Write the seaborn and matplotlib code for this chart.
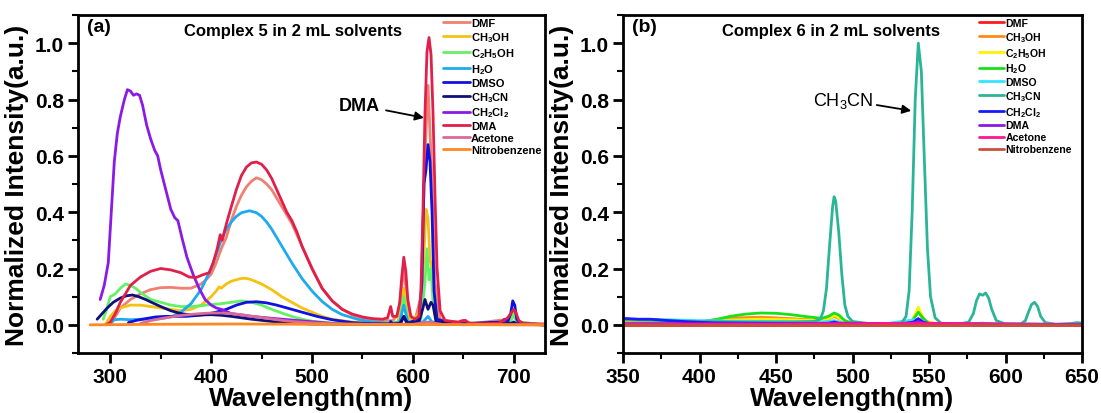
import numpy as np
import pandas as pd
import seaborn as sns
import matplotlib.pyplot as plt
from matplotlib.ticker import MultipleLocator

# ---- panel (a): complex 5 ----
a_dmf_x = [300, 305, 310, 320, 330, 340, 350, 360, 370, 380, 390, 395, 400, 405, 410, 415, 420, 425, 430, 435, 440, 445, 450, 455, 460, 465, 470, 475, 480, 485, 490, 500, 510, 520, 530, 540, 550, 560, 570, 580, 586, 591, 596, 602, 608, 612, 615, 618, 622, 627, 640, 660, 695, 700, 705, 730]
a_dmf_y = [0.0, 0.03, 0.06, 0.09, 0.11, 0.125, 0.132, 0.133, 0.13, 0.13, 0.145, 0.16, 0.18, 0.22, 0.27, 0.31, 0.37, 0.42, 0.46, 0.49, 0.51, 0.522, 0.515, 0.5, 0.48, 0.45, 0.42, 0.39, 0.36, 0.32, 0.28, 0.2, 0.13, 0.085, 0.055, 0.035, 0.025, 0.018, 0.015, 0.015, 0.04, 0.2, 0.04, 0.015, 0.1, 0.6, 0.85, 0.6, 0.15, 0.02, 0.01, 0.005, 0.02, 0.045, 0.01, 0.0]

a_ch3oh_x = [295, 300, 305, 310, 320, 330, 340, 350, 360, 370, 380, 390, 400, 405, 408, 410, 415, 420, 430, 435, 440, 450, 460, 470, 480, 490, 500, 510, 520, 540, 560, 585, 588, 591, 594, 598, 608, 611, 613, 615, 617, 619, 621, 625, 640, 695, 700, 705, 730]
a_ch3oh_y = [0.0, 0.03, 0.05, 0.06, 0.07, 0.07, 0.065, 0.06, 0.055, 0.05, 0.055, 0.07, 0.1, 0.12, 0.135, 0.13, 0.145, 0.155, 0.165, 0.165, 0.16, 0.145, 0.125, 0.1, 0.08, 0.06, 0.045, 0.03, 0.02, 0.01, 0.005, 0.01, 0.05, 0.13, 0.05, 0.01, 0.05, 0.25, 0.41, 0.38, 0.23, 0.2, 0.1, 0.01, 0.003, 0.01, 0.035, 0.005, 0.0]

a_c2h5oh_x = [293, 296, 300, 305, 310, 315, 320, 325, 330, 340, 350, 360, 370, 380, 390, 400, 410, 420, 430, 440, 450, 460, 470, 480, 490, 500, 520, 560, 587, 591, 595, 608, 612, 614, 616, 618, 620, 624, 650, 697, 700, 703, 730]
a_c2h5oh_y = [0.02, 0.05, 0.1, 0.11, 0.13, 0.145, 0.14, 0.13, 0.115, 0.09, 0.08, 0.07, 0.065, 0.065, 0.068, 0.072, 0.075, 0.08, 0.085, 0.08, 0.07, 0.055, 0.042, 0.03, 0.02, 0.013, 0.006, 0.003, 0.01, 0.1, 0.01, 0.02, 0.15, 0.27, 0.16, 0.2, 0.08, 0.01, 0.0, 0.01, 0.04, 0.01, 0.0]

a_h2o_x = [300, 304, 310, 320, 330, 340, 350, 360, 370, 380, 390, 400, 405, 410, 415, 420, 425, 430, 438, 445, 450, 455, 460, 465, 470, 480, 490, 500, 510, 520, 530, 545, 560, 580, 587, 591, 595, 610, 615, 619, 640, 700, 730]
a_h2o_y = [0.005, 0.018, 0.02, 0.018, 0.02, 0.02, 0.022, 0.028, 0.045, 0.075, 0.125, 0.2, 0.25, 0.3, 0.34, 0.365, 0.385, 0.398, 0.405, 0.398, 0.385, 0.365, 0.34, 0.31, 0.28, 0.22, 0.165, 0.12, 0.083, 0.055, 0.036, 0.02, 0.01, 0.005, 0.01, 0.07, 0.01, 0.01, 0.03, 0.01, 0.002, 0.008, 0.0]

a_dmso_x = [318, 325, 335, 345, 355, 365, 375, 385, 395, 405, 415, 425, 435, 445, 455, 465, 475, 485, 495, 505, 520, 540, 560, 577, 578, 580, 588, 591, 594, 606, 609, 611, 613, 615, 617, 619, 621, 624, 640, 688, 691, 694, 697, 699, 701, 703, 706, 730]
a_dmso_y = [0.008, 0.015, 0.022, 0.028, 0.03, 0.03, 0.03, 0.033, 0.037, 0.045, 0.055, 0.07, 0.08, 0.082, 0.078, 0.07, 0.06, 0.05, 0.04, 0.03, 0.018, 0.008, 0.004, 0.003, 0.012, 0.003, 0.005, 0.03, 0.005, 0.02, 0.15, 0.5, 0.55, 0.64, 0.58, 0.4, 0.12, 0.02, 0.003, 0.01, 0.02, 0.01, 0.04, 0.085, 0.07, 0.02, 0.004, 0.0]

a_ch3cn_x = [287, 292, 297, 303, 310, 316, 322, 328, 335, 342, 350, 360, 370, 380, 390, 400, 410, 420, 430, 440, 460, 480, 500, 580, 587, 591, 595, 606, 610, 612, 615, 618, 620, 623, 640, 698, 700, 703, 730]
a_ch3cn_y = [0.02, 0.04, 0.06, 0.08, 0.095, 0.103, 0.106, 0.1, 0.09, 0.078, 0.065, 0.05, 0.04, 0.035, 0.035, 0.036, 0.034, 0.03, 0.025, 0.02, 0.012, 0.006, 0.003, 0.002, 0.005, 0.03, 0.005, 0.01, 0.06, 0.09, 0.055, 0.08, 0.07, 0.01, 0.002, 0.005, 0.01, 0.002, 0.0]

a_ch2cl2_x = [290, 294, 298, 301, 304, 307, 310, 314, 317, 320, 323, 326, 329, 332, 336, 340, 344, 347, 350, 355, 360, 364, 367, 371, 376, 382, 388, 394, 400, 405, 410, 420, 440, 470, 520]
a_ch2cl2_y = [0.09, 0.14, 0.22, 0.4, 0.58, 0.68, 0.74, 0.8, 0.835, 0.83, 0.815, 0.82, 0.815, 0.78, 0.71, 0.66, 0.62, 0.6, 0.55, 0.48, 0.41, 0.38, 0.37, 0.31, 0.24, 0.18, 0.13, 0.09, 0.07, 0.06, 0.055, 0.04, 0.03, 0.02, 0.005]

a_dma_x = [296, 300, 305, 310, 315, 320, 330, 340, 350, 360, 370, 378, 385, 392, 398, 402, 406, 409, 411, 413, 416, 420, 425, 430, 435, 440, 445, 450, 455, 460, 465, 470, 475, 480, 485, 490, 500, 510, 520, 530, 540, 550, 560, 570, 575, 578, 580, 584, 587, 589, 591, 593, 595, 598, 602, 606, 608, 610, 612, 614, 616, 618, 620, 622, 624, 627, 632, 645, 649, 652, 656, 670, 685, 690, 694, 697, 700, 702, 705, 710, 730]
a_dma_y = [0.0, 0.01, 0.04, 0.08, 0.11, 0.14, 0.17, 0.19, 0.2, 0.195, 0.185, 0.17, 0.168, 0.178, 0.185, 0.22, 0.27, 0.32, 0.3, 0.33, 0.37, 0.42, 0.48, 0.53, 0.56, 0.575, 0.578, 0.57, 0.55, 0.52, 0.48, 0.44, 0.4, 0.37, 0.33, 0.28, 0.2, 0.13, 0.085, 0.055, 0.038, 0.028, 0.022, 0.02, 0.025, 0.065, 0.03, 0.03, 0.08, 0.17, 0.24, 0.19, 0.09, 0.03, 0.02, 0.03, 0.12, 0.4, 0.75, 0.97, 1.02, 0.96, 0.75, 0.45, 0.2, 0.05, 0.015, 0.01, 0.015, 0.016, 0.006, 0.004, 0.006, 0.015, 0.025, 0.04, 0.055, 0.045, 0.015, 0.004, 0.003]

a_acetone_x = [330, 340, 350, 360, 370, 380, 390, 400, 410, 420, 430, 440, 450, 460, 470, 480, 500, 520, 560, 600, 615, 630, 730]
a_acetone_y = [0.005, 0.015, 0.022, 0.028, 0.033, 0.037, 0.04, 0.042, 0.042, 0.04, 0.036, 0.031, 0.026, 0.021, 0.016, 0.012, 0.007, 0.004, 0.002, 0.002, 0.01, 0.001, 0.0]

a_nitro_x = [280, 350, 420, 500, 600, 730]
a_nitro_y = [0.0, 0.002, 0.003, 0.002, 0.001, 0.0]

# ---- panel (b): complex 6 ----
b_ch3cn_x = [350, 370, 400, 430, 460, 475, 479, 481, 483, 485, 487, 488, 489, 491, 493, 495, 497, 500, 510, 525, 532, 535, 537, 539, 541, 543, 545, 547, 549, 551, 554, 558, 570, 576, 579, 581, 583, 585, 587, 589, 591, 594, 600, 610, 613, 615, 617, 619, 621, 623, 626, 633, 643, 647, 650]
b_ch3cn_y = [0.018, 0.016, 0.012, 0.01, 0.01, 0.012, 0.02, 0.05, 0.13, 0.28, 0.42, 0.455, 0.44, 0.33, 0.18, 0.07, 0.03, 0.012, 0.005, 0.003, 0.006, 0.03, 0.12, 0.4, 0.8, 1.0, 0.9, 0.58, 0.27, 0.1, 0.025, 0.005, 0.003, 0.01, 0.04, 0.085, 0.11, 0.105, 0.113, 0.095, 0.055, 0.015, 0.003, 0.003, 0.015, 0.045, 0.072, 0.08, 0.065, 0.03, 0.008, 0.002, 0.005, 0.008, 0.006]

b_h2o_x = [350, 380, 400, 410, 420, 430, 440, 450, 460, 470, 480, 485, 488, 491, 495, 500, 520, 538, 541, 543, 546, 550, 570, 585, 595, 620, 650]
b_h2o_y = [0.004, 0.006, 0.01, 0.018, 0.03, 0.038, 0.042, 0.041, 0.036, 0.029, 0.023, 0.032, 0.042, 0.035, 0.015, 0.006, 0.002, 0.006, 0.03, 0.045, 0.025, 0.004, 0.002, 0.006, 0.002, 0.003, 0.0]

b_ch3oh_x = [350, 380, 400, 420, 440, 460, 480, 485, 488, 492, 497, 520, 539, 543, 547, 555, 650]
b_ch3oh_y = [0.01, 0.01, 0.012, 0.024, 0.027, 0.022, 0.015, 0.022, 0.03, 0.02, 0.005, 0.002, 0.01, 0.05, 0.01, 0.002, 0.0]

b_c2h5oh_x = [350, 400, 420, 440, 460, 480, 485, 488, 491, 497, 520, 539, 543, 547, 555, 650]
b_c2h5oh_y = [0.007, 0.009, 0.017, 0.02, 0.018, 0.014, 0.02, 0.035, 0.025, 0.004, 0.002, 0.015, 0.062, 0.015, 0.002, 0.0]

b_dmso_x = [350, 380, 400, 420, 450, 480, 488, 495, 520, 543, 550, 650]
b_dmso_y = [0.02, 0.018, 0.015, 0.013, 0.012, 0.01, 0.015, 0.005, 0.003, 0.02, 0.003, 0.002]

b_ch2cl2_x = [350, 360, 368, 380, 395, 410, 450, 480, 485, 488, 492, 530, 540, 543, 546, 552, 650]
b_ch2cl2_y = [0.023, 0.02, 0.02, 0.015, 0.01, 0.007, 0.005, 0.004, 0.006, 0.01, 0.004, 0.002, 0.01, 0.022, 0.01, 0.002, 0.0]

b_dma_x = [350, 450, 488, 540, 543, 546, 650]
b_dma_y = [0.004, 0.003, 0.006, 0.004, 0.012, 0.004, 0.001]

b_acetone_x = [350, 488, 543, 650]
b_acetone_y = [0.002, 0.003, 0.006, 0.0]

b_flat_x = [350, 650]
b_dmf_y = [0.0, 0.0]
b_nitro_y = [0.0, 0.0]

solvents = ['DMF', 'CH$_3$OH', 'C$_2$H$_5$OH', 'H$_2$O', 'DMSO', 'CH$_3$CN',
            'CH$_2$Cl$_2$', 'DMA', 'Acetone', 'Nitrobenzene']

colors_a = ['#F08070', '#F5C211', '#66F066', '#1EAAF0', '#1010E0', '#10107A',
            '#8A1AE8', '#E0204A', '#DB6A96', '#FF8820']
colors_b = ['#FF1A1A', '#FF8C1A', '#FFF200', '#1AE01A', '#33E6FF', '#2BB597',
            '#1A1AFF', '#8A1AE6', '#FF1493', '#C8503C']

series_a = [(a_dmf_x, a_dmf_y), (a_ch3oh_x, a_ch3oh_y), (a_c2h5oh_x, a_c2h5oh_y),
            (a_h2o_x, a_h2o_y), (a_dmso_x, a_dmso_y), (a_ch3cn_x, a_ch3cn_y),
            (a_ch2cl2_x, a_ch2cl2_y), (a_dma_x, a_dma_y), (a_acetone_x, a_acetone_y),
            (a_nitro_x, a_nitro_y)]
series_b = [(b_flat_x, b_dmf_y), (b_ch3oh_x, b_ch3oh_y), (b_c2h5oh_x, b_c2h5oh_y),
            (b_h2o_x, b_h2o_y), (b_dmso_x, b_dmso_y), (b_ch3cn_x, b_ch3cn_y),
            (b_ch2cl2_x, b_ch2cl2_y), (b_dma_x, b_dma_y), (b_acetone_x, b_acetone_y),
            (b_flat_x, b_nitro_y)]


def to_frame(series):
    parts = []
    for name, (x, y) in zip(solvents, series):
        parts.append(pd.DataFrame({'Wavelength': x, 'Intensity': y, 'Solvent': name}))
    return pd.concat(parts, ignore_index=True)


sns.set_theme(style='ticks')
plt.rcParams['font.family'] = ['Liberation Sans', 'DejaVu Sans']
plt.rcParams['font.weight'] = 'bold'
plt.rcParams['axes.labelweight'] = 'bold'
plt.rcParams['mathtext.default'] = 'regular'
plt.rcParams['text.color'] = 'black'
plt.rcParams['axes.labelcolor'] = 'black'
plt.rcParams['xtick.color'] = 'black'
plt.rcParams['ytick.color'] = 'black'

fig = plt.figure(figsize=(11.01, 4.14), dpi=100)
ax1 = fig.add_axes([78 / 1101, 1 - 354 / 414, (545 - 78) / 1101, (354 - 16) / 414])
ax2 = fig.add_axes([623 / 1101, 1 - 354 / 414, (1082 - 623) / 1101, (354 - 16) / 414])

panels = [(ax1, series_a, colors_a, (268, 731), 100, 50, '(a)', 'Complex 5 in 2 mL solvents', 0.46, 8, 1.0),
          (ax2, series_b, colors_b, (350, 650), 50, 25, '(b)', 'Complex 6 in 2 mL solvents', 0.453, 7.6, 0.985)]

for ax, series, cols, xlim, xmaj, xmin, tag, title, tx, lfs, lx in panels:
    df = to_frame(series)
    sns.lineplot(data=df, x='Wavelength', y='Intensity', hue='Solvent', hue_order=solvents,
                 palette=cols, estimator=None, lw=2, ax=ax)
    ax.set_xlim(*xlim)
    ax.set_ylim(-0.1, 1.1)
    ax.xaxis.set_major_locator(MultipleLocator(xmaj))
    ax.xaxis.set_minor_locator(MultipleLocator(xmin))
    ax.yaxis.set_major_locator(MultipleLocator(0.2))
    ax.yaxis.set_minor_locator(MultipleLocator(0.1))
    ax.yaxis.set_major_formatter(plt.FormatStrFormatter('%.1f'))
    ax.tick_params(which='major', direction='out', length=7, width=2, labelsize=15, pad=3)
    ax.tick_params(which='minor', direction='out', length=4, width=1.5)
    for s in ax.spines.values():
        s.set_linewidth(2)
        s.set_color('black')
    ax.set_xlabel('Wavelength(nm)', fontsize=19, labelpad=0)
    ax.set_ylabel('Normalized Intensity(a.u.)', fontsize=19)
    h, l = ax.get_legend_handles_labels()
    ax.legend(h, l, loc='upper right', bbox_to_anchor=(lx, 1.0), frameon=False,
              prop={'size': lfs, 'weight': 'bold'},
              handlelength=2.4, handletextpad=0.15, labelspacing=0.18,
              borderaxespad=0.2, borderpad=0.1)
    ax.text(0.02, 0.965, tag, transform=ax.transAxes, fontsize=14, fontweight='bold',
            ha='left', va='center')
    ax.text(tx, 0.955, title, transform=ax.transAxes, fontsize=12, fontweight='bold',
            ha='center', va='center')

ax1.annotate('DMA', xy=(611, 0.735), xytext=(547, 0.78), fontsize=13, fontweight='bold',
             ha='center', va='center',
             arrowprops=dict(arrowstyle='-|>', color='black', lw=1.3, shrinkA=2, shrinkB=0))
ax2.annotate('CH$_3$CN', xy=(538.4, 0.76), xytext=(494, 0.80), fontsize=13, fontweight='normal',
             ha='center', va='center',
             arrowprops=dict(arrowstyle='-|>', color='black', lw=1.3, shrinkA=0, shrinkB=0))

fig.savefig('out.png', dpi=100, facecolor='white')
